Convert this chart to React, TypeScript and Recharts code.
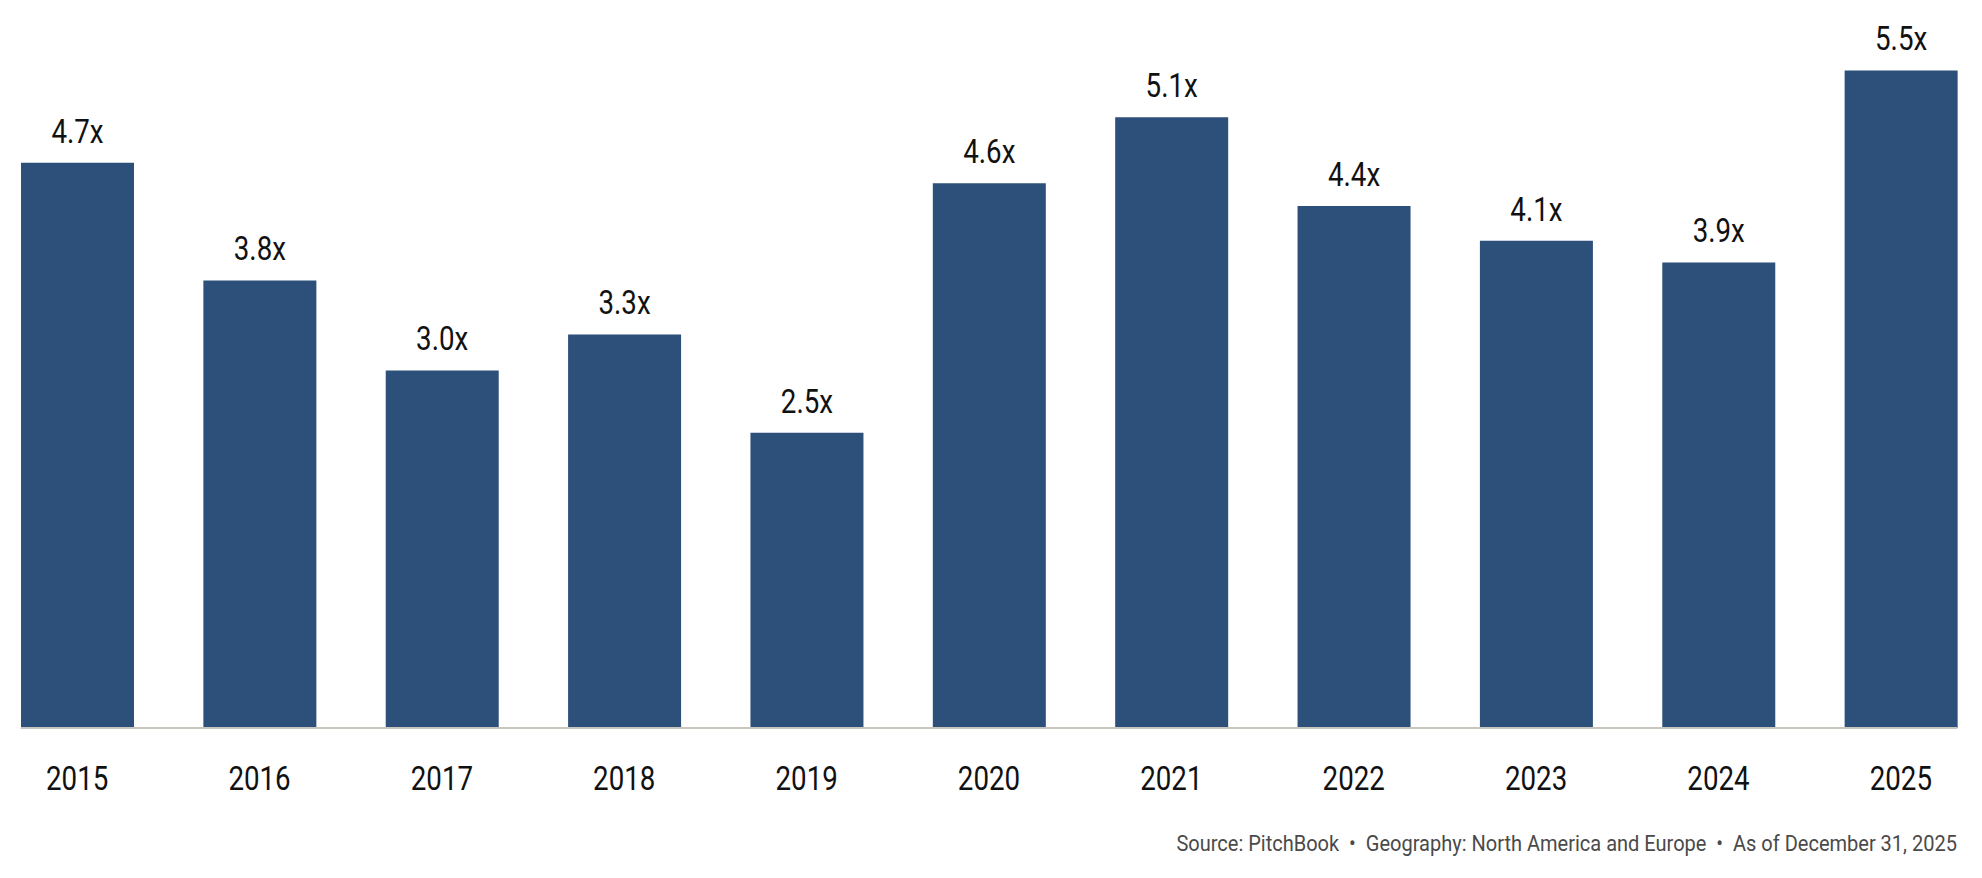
import { BarChart, Bar, XAxis, YAxis, LabelList, ReferenceLine } from "recharts";

const years = ["2015", "2016", "2017", "2018", "2019", "2020", "2021", "2022", "2023", "2024", "2025"];
// bar heights (labels are the rounded figures shown)
const multiples = [4.71, 3.73, 2.98, 3.28, 2.46, 4.54, 5.09, 4.35, 4.06, 3.88, 5.48];
const valueLabels = ["4.7x", "3.8x", "3.0x", "3.3x", "2.5x", "4.6x", "5.1x", "4.4x", "4.1x", "3.9x", "5.5x"];
const footerText = "Source: PitchBook  •  Geography: North America and Europe  •  As of December 31, 2025";

const data = years.map((year, i) => ({ year, value: multiples[i], label: valueLabels[i] }));

const FONT = "Roboto, 'Noto Sans', sans-serif";
const SQUEEZE = 0.84;

const YearTick = (props: any) => {
    const { x, y, payload } = props;
    return (
        <text
            transform={`translate(${x},${y + 62}) scale(${SQUEEZE},1)`}
            textAnchor="middle"
            fontFamily={FONT}
            fontSize={33}
            fill="#111"
        >
            {payload.value}
        </text>
    );
};

const ValueLabel = (props: any) => {
    const { x, y, width, value } = props;
    return (
        <text
            transform={`translate(${x + width / 2},${y - 20}) scale(${SQUEEZE},1)`}
            textAnchor="middle"
            fontFamily={FONT}
            fontSize={33}
            fill="#111"
        >
            {value}
        </text>
    );
};

// axis line only runs from the first bar's left edge to the last bar's right edge
const BaseLine = (props: any) => {
    const { x1, x2, y1 } = props;
    return <line x1={x1 + 34.7} x2={x2 - 34.7} y1={y1} y2={y1} stroke="#c8c4be" strokeWidth={2} />;
};

export default function App() {
    return (
        <div style={{ margin: -8, width: 1982, height: 878, position: "relative", overflow: "hidden", background: "#fff" }}>
            <div style={{ position: "absolute", left: -14, top: 0 }}>
                <BarChart width={2006} height={878} data={data} margin={{ top: 8, right: 0, left: 0, bottom: 0 }}>
                    <XAxis
                        dataKey="year"
                        axisLine={false}
                        tickLine={false}
                        tickSize={0}
                        tickMargin={0}
                        height={150}
                        interval={0}
                        tick={<YearTick />}
                    />
                    <YAxis hide domain={[0, 6]} />
                    <Bar dataKey="value" fill="#2c5079" barSize={113} isAnimationActive={false}>
                        <LabelList dataKey="label" content={<ValueLabel />} />
                    </Bar>
                    <ReferenceLine y={0} shape={<BaseLine />} />
                </BarChart>
            </div>
            <svg width={1982} height={878} style={{ position: "absolute", left: 0, top: 0, pointerEvents: "none" }}>
                <text
                    transform="translate(1957,851) scale(0.89,1)"
                    textAnchor="end"
                    fontFamily={FONT}
                    fontSize={22.5}
                    fill="#4a4a4a"
                    style={{ whiteSpace: "pre" }}
                >
                    {footerText}
                </text>
            </svg>
        </div>
    );
}
